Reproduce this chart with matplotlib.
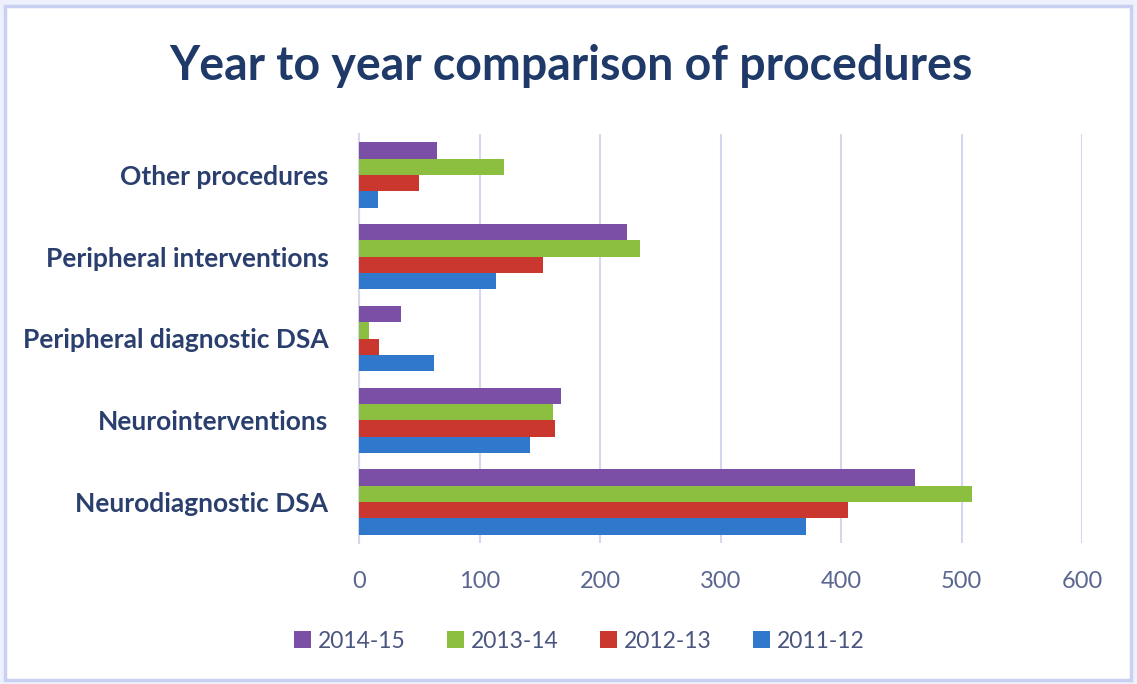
import matplotlib
matplotlib.use("Agg")
import matplotlib.pyplot as plt
from matplotlib.patches import Rectangle
import numpy as np

# data
categories = ["Neurodiagnostic DSA", "Neurointerventions", "Peripheral diagnostic DSA",
              "Peripheral interventions", "Other procedures"]
years = ["2011-12", "2012-13", "2013-14", "2014-15"]
v_2011 = [371, 142, 62, 114, 16]
v_2012 = [406, 163, 17, 153, 50]
v_2013 = [509, 161, 8, 233, 120]
v_2014 = [461, 168, 35, 222, 65]
series = [v_2011, v_2012, v_2013, v_2014]
colors = ["#2F78CC", "#C9372E", "#8CBF3F", "#7B4FA6"]
xticks = [0, 100, 200, 300, 400, 500, 600]

plt.rcParams['font.family'] = ['Lato', 'DejaVu Sans']
fig = plt.figure(figsize=(11.37, 6.84), dpi=100)
fig.patch.set_facecolor("#EEF0FB")
# chart area with light border
fig.patches.append(Rectangle((5/1137, 4/684), 1126/1137, 674/684, transform=fig.transFigure,
                             facecolor="white", edgecolor="#C9D1F2", linewidth=2.5, zorder=-5))

ax = fig.add_axes([359/1137, 1-543/684, 723/1137, 409/684])
ax.set_facecolor("none")
y = np.arange(len(categories))
h = 0.2
offsets = [-0.3, -0.1, 0.1, 0.3]
for vals, col, off, yr in zip(series, colors, offsets, years):
    ax.barh(y + off, vals, height=h, color=col, label=yr, zorder=3)

ax.set_xlim(0, 600)
ax.set_ylim(-0.5, 4.5)
ax.set_xticks(xticks)
ax.set_xticklabels([str(t) for t in xticks])
ax.set_yticks(y)
ax.set_yticklabels(categories, fontsize=19, fontweight="bold", color="#2A3F6E")
ax.tick_params(axis="x", colors="#5A6690", labelsize=17, length=0, pad=20)
ax.tick_params(axis="y", length=0, pad=22)
ax.grid(axis="x", color="#D3D8EE", linewidth=1.5, zorder=0)
for s in ["top", "right", "bottom"]:
    ax.spines[s].set_visible(False)
ax.spines["left"].set_color("#D3D8EE")
ax.spines["left"].set_linewidth(1.5)

fig.text(571/1137, 1-66/684, "Year to year comparison of procedures", ha="center", va="center",
         fontsize=33.5, fontweight="bold", color="#1F3A68")

handles, labels = ax.get_legend_handles_labels()
leg = fig.legend(handles[::-1], labels[::-1], loc="center", bbox_to_anchor=(579/1137, 1-641/684),
                 ncol=4, frameon=False, fontsize=16.5, handlelength=0.75, handleheight=0.75,
                 handletextpad=0.3, columnspacing=1.8)
for t in leg.get_texts():
    t.set_color("#4A5580")

fig.savefig("out.png", dpi=100, facecolor=fig.get_facecolor())
